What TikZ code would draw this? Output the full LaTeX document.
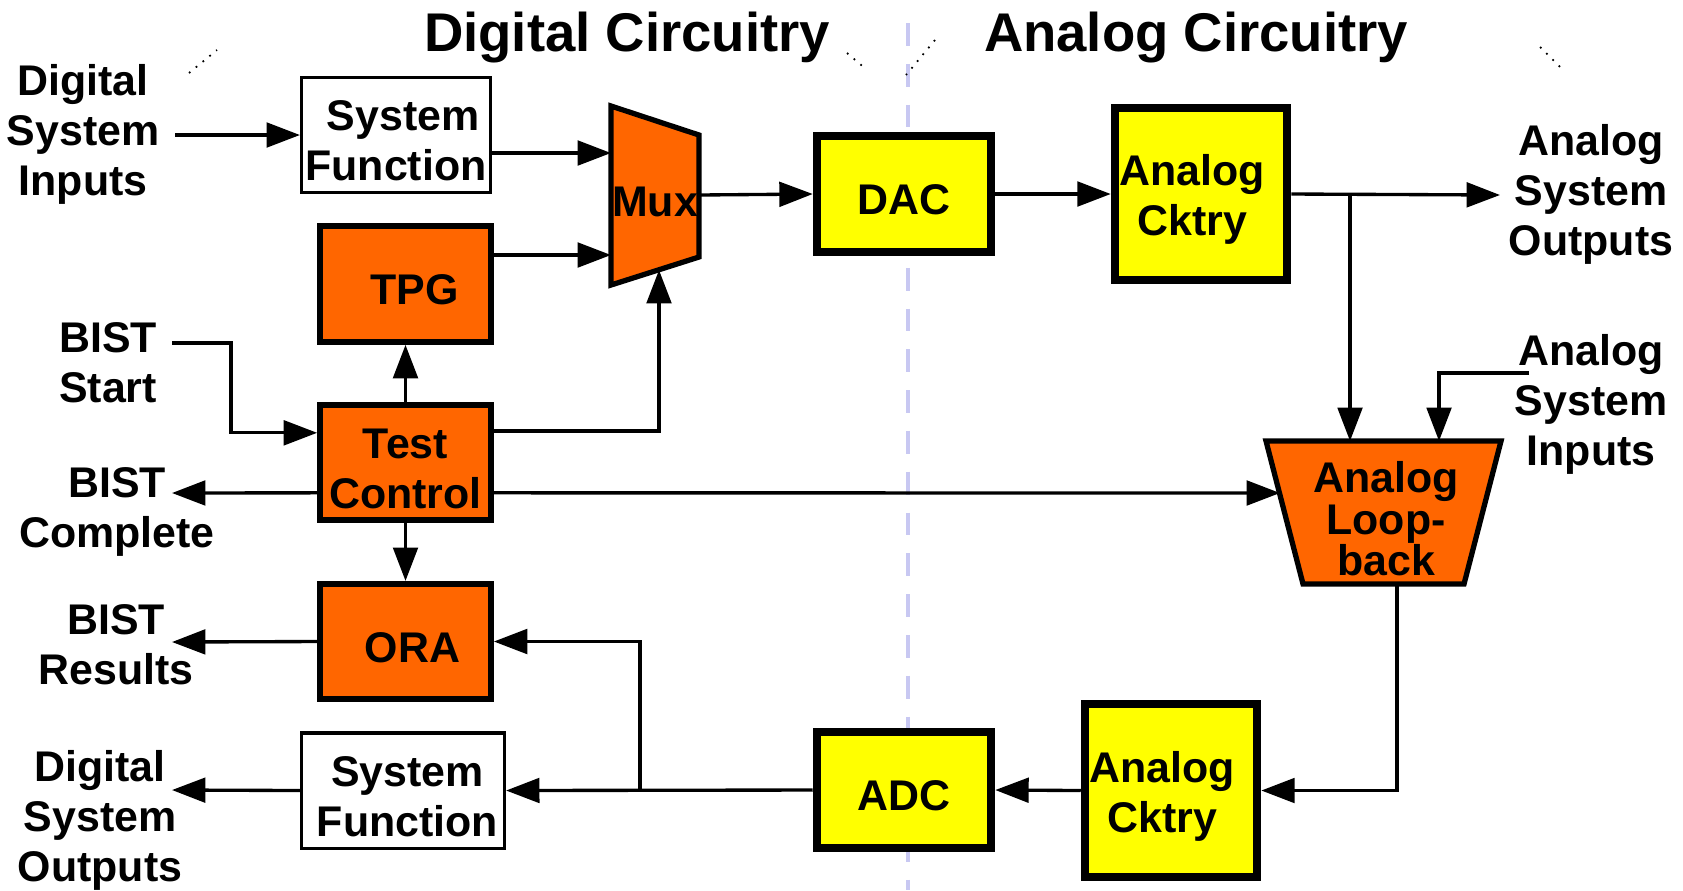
\documentclass[tikz,border=0pt]{standalone}
\usepackage{fontspec}
\setmainfont{Liberation Sans}
\usetikzlibrary{arrows.meta,calc}
\definecolor{bistorange}{HTML}{FF6600}
\definecolor{anayellow}{HTML}{FFFF00}
\definecolor{splitblue}{HTML}{C8C8F2}
\newcommand{\capstrut}{\rule{0pt}{12pt}}

\begin{document}
\begin{tikzpicture}[x=0.01cm,y=-0.01cm,
		font=\bfseries\fontsize{12.2}{14.2}\selectfont,
		>={Triangle[length=9.5pt,width=7pt]},
		wire/.style={line width=0.95pt,->},
		sysbox/.style={draw,line width=1pt,fill=white,align=center,inner sep=0pt},
		digbox/.style={draw,line width=1.6pt,fill=bistorange,align=center,inner sep=0pt,minimum width=1.71cm},
		anabox/.style={draw,line width=2.4pt,fill=anayellow,align=center,inner sep=0pt},
		lbl/.style={align=center,inner sep=0pt},
		title/.style={anchor=base,font=\bfseries\fontsize{15.5}{18}\selectfont}]
	\useasboundingbox (0,0) rectangle (1683,890);

	\draw[splitblue,line width=1.3pt,dash pattern=on 6.5pt off 5.1pt] (908,23) -- (908,890);
	\draw[dotted,line width=0.5pt] (189,73) -- (217,50);
	\draw[dotted,line width=0.5pt] (847,53) -- (867,70);
	\draw[dotted,line width=0.5pt] (935,40) -- (906,75);
	\draw[dotted,line width=0.5pt] (1540,47) -- (1561,68);

	\node[title] (digt) at (627,51) {Digital Circuitry};
	\node[title] (anat) at (1196,51) {Analog Circuitry};

	% digital side
	\node[sysbox,minimum width=1.885cm,minimum height=1.145cm] (sfin) at (396,135) {\capstrut\hspace{4pt}System\\Function};
	\node[digbox,minimum height=1.16cm] (tpg) at (405.5,284) {\capstrut\hspace{5pt}TPG};
	\node[digbox,minimum height=1.155cm] (tc) at (405.5,462.5) {\capstrut Test\\Control};
	\node[digbox,minimum height=1.155cm] (ora) at (405.5,641.5) {\capstrut\hspace{4pt}ORA};
	\node[sysbox,minimum width=2.025cm,minimum height=1.155cm] (sfout) at (403,790.5) {\capstrut\hspace{2.5pt}System\\\hspace{2.5pt}Function};

	\draw[fill=bistorange,line width=1.5pt] (611,106) -- (699,135) -- (699,257) -- (611,285) -- cycle;
	\node[inner sep=0pt] (mux) at (655,202) {Mux};
	\coordinate (muxa) at (611,153);
	\coordinate (muxb) at (611,255);
	\coordinate (muxc) at (659,270);
	\coordinate (muxo) at (699,195);

	% analog side
	\node[anabox,minimum width=1.74cm,minimum height=1.156cm] (dac) at (904,194) {\capstrut DAC};
	\node[anabox,minimum width=1.72cm,minimum height=1.72cm] (act) at (1201,194) {\capstrut\hspace{-5pt}Analog\\\hspace{-5pt}Cktry};
	\node[anabox,minimum width=1.74cm,minimum height=1.156cm] (adc) at (904,790) {\capstrut ADC};
	\node[anabox,minimum width=1.72cm,minimum height=1.73cm] (acb) at (1171,790.5) {\capstrut\hspace{-5pt}Analog\\\hspace{-5pt}Cktry};

	\draw[fill=bistorange,line width=1.5pt] (1266,441) -- (1501,441) -- (1464,584) -- (1303,584) -- cycle;
	\node[lbl,font=\bfseries\fontsize{12.2}{11.8}\selectfont] (loop) at (1386,519) {Analog\\Loop-\\back};
	\coordinate (lbin1) at (1350,441);
	\coordinate (lbin2) at (1439,441);
	\coordinate (lbin3) at (1280,493);
	\coordinate (lbout) at (1397,584);

	% outside signals
	\node[lbl] (dsi) at (83,134) {Digital\\System\\Inputs};
	\node[lbl] (bs) at (108,363) {BIST\\Start};
	\node[lbl] (bc) at (117,512) {BIST\\Complete};
	\node[lbl] (br) at (116,645) {BIST\\Results};
	\node[lbl] (dso) at (100,820) {Digital\\System\\Outputs};
	\node[lbl] (aso) at (1591,194) {Analog\\System\\Outputs};
	\node[lbl] (asi) at (1591,404) {Analog\\System\\Inputs};
	\coordinate (dsiend) at (175,135);
	\coordinate (bsend) at (172,343);
	\coordinate (bsbend) at (231,343);
	\coordinate (bcend) at (172,493);
	\coordinate (brend) at (172,642);
	\coordinate (dsoend) at (172,790);
	\coordinate (asoend) at (1500,195);
	\coordinate (asistart) at (1529,373);
	\coordinate (tap) at (640,790);

	\draw[wire] (dsiend) -- (sfin.west);
	\draw[wire] (sfin.east |- muxa) -- (muxa);
	\draw[wire] (tpg.east |- muxb) -- (muxb);
	\draw[wire] ($(tc.north east)!0.24!(tc.south east)$) -| (muxc);
	\draw[wire] (bsend) -- (bsbend) |- ($(tc.north west)!0.255!(tc.south west)$);
	\draw[wire] (tc.north) -- (tpg.south);
	\draw[wire] (tc.south) -- (ora.north);
	\draw[wire] ($(tc.north west)!0.75!(tc.south west)$) -- (bcend);
	\draw[wire] ($(tc.north east)!0.75!(tc.south east)$) -- (lbin3);
	\draw[wire] (ora.west) -- (brend);
	\draw[wire] (sfout.west) -- (dsoend);
	\draw[wire] (adc.west) -- (sfout.east);
	\draw[wire] (tap) |- (ora.east);
	\draw[wire] (acb.west) -- (adc.east);
	\draw[wire] (lbout) |- (acb.east);
	\draw[wire] (muxo) -- (dac.west);
	\draw[wire] (dac.east) -- (act.west);
	\draw[wire] (act.east) -- (asoend);
	\draw[wire] (act.east -| lbin1) -- (lbin1);
	\draw[wire] (asistart) -| (lbin2);
\end{tikzpicture}
\end{document}
